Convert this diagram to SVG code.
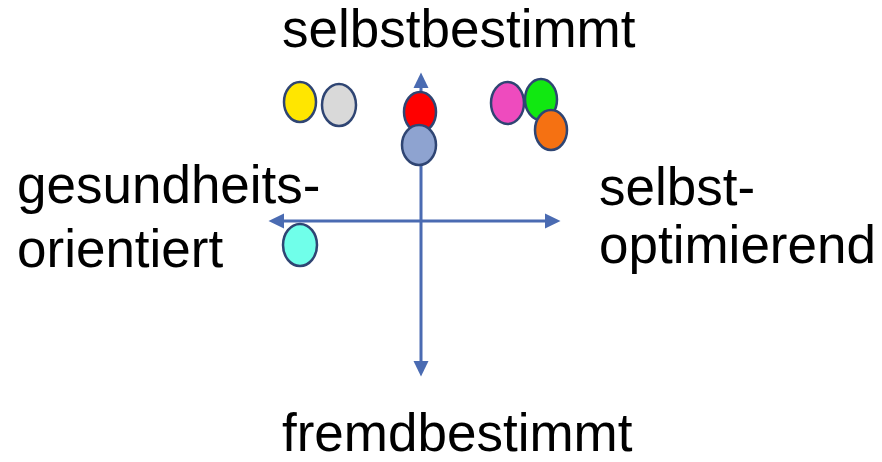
<svg xmlns="http://www.w3.org/2000/svg" width="882" height="462" viewBox="0 0 882 462">
<style>
text{font-family:"Liberation Sans",Arial,sans-serif;font-size:53px;fill:#000}
.ax{stroke:#4A6BB2;stroke-width:3;fill:none}
.n ellipse{stroke:#2F4573;stroke-width:2.5}
</style>
<defs>
<marker id="ah" markerUnits="userSpaceOnUse" markerWidth="16" markerHeight="16" viewBox="0 -8 16 16" refX="0" refY="0" orient="auto-start-reverse">
<path d="M0,-7.5 L15.5,0 L0,7.5 z" fill="#4A6BB2"/>
</marker>
</defs>
<rect width="882" height="462" fill="#fff"/>
<g id="labels">
<text x="282" y="47">selbstbestimmt</text>
<text x="282" y="451">fremdbestimmt</text>
<text x="17" y="203">gesundheits-</text>
<text x="17" y="267">orientiert</text>
<text x="599" y="205">selbst-</text>
<text x="599" y="263">optimierend</text>
</g>
<g id="connectors">
<line class="ax" x1="421" y1="88" x2="421" y2="361" marker-start="url(#ah)" marker-end="url(#ah)"/>
<line class="ax" x1="284" y1="221" x2="545" y2="221" marker-start="url(#ah)" marker-end="url(#ah)"/>
</g>
<g id="yellow" class="n"><ellipse cx="300" cy="102" rx="16" ry="20" fill="#FFE600"/></g>
<g id="gray" class="n"><ellipse cx="339" cy="105" rx="17" ry="21" fill="#D9D9D9"/></g>
<g id="red" class="n"><ellipse cx="420" cy="112" rx="16" ry="20" fill="#FF0000"/></g>
<g id="bluegray" class="n"><ellipse cx="419" cy="145" rx="17" ry="20" fill="#8EA3D0"/></g>
<g id="magenta" class="n"><ellipse cx="507.5" cy="103" rx="16.5" ry="21" fill="#EE4BBE"/></g>
<g id="green" class="n"><ellipse cx="541" cy="99.5" rx="16" ry="20.5" fill="#11E811"/></g>
<g id="orange" class="n"><ellipse cx="551" cy="130" rx="16" ry="20" fill="#F57112"/></g>
<g id="cyan" class="n"><ellipse cx="300" cy="245" rx="17" ry="21" fill="#70FFEA"/></g>
</svg>
